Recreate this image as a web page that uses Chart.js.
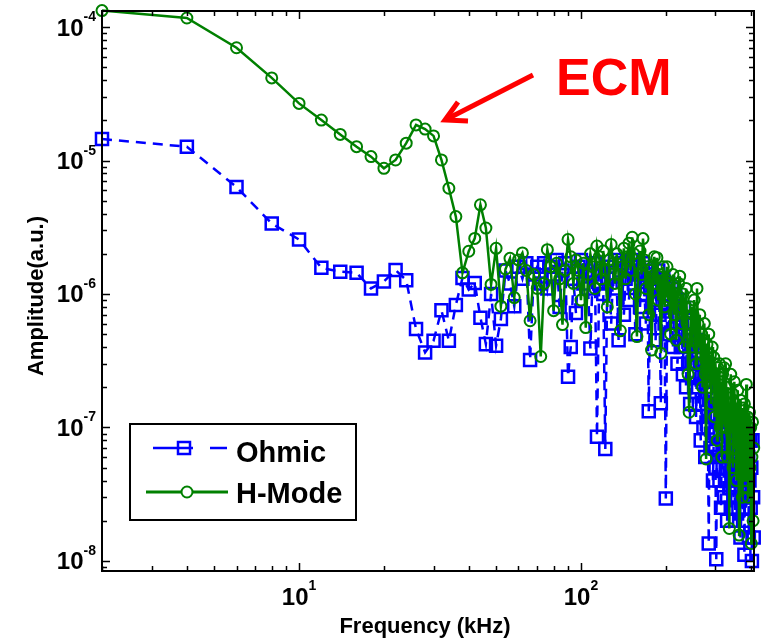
<!DOCTYPE html>
<html>
<head>
<meta charset="utf-8">
<title>Ohmic vs H-Mode spectrum</title>
<script src="https://cdn.jsdelivr.net/npm/chart.js@4.4.1/dist/chart.umd.min.js"></script>
<style>
  html, body { margin: 0; padding: 0; background: #fff; }
  #wrap { width: 765px; height: 639px; }
</style>
</head>
<body>
<div id="wrap"><canvas id="spec" width="765" height="639"></canvas></div>
<script>
/* ── Data (2 kHz bins) ─────────────────────────────────────── */
const freqKHz = [
    2,   4,   6,   8,  10,  12,  14,  16,  18,  20,
   22,  24,  26,  28,  30,  32,  34,  36,  38,  40,
   42,  44,  46,  48,  50,  52,  54,  56,  58,  60,
   62,  64,  66,  68,  70,  72,  74,  76,  78,  80,
   82,  84,  86,  88,  90,  92,  94,  96,  98, 100,
  102, 104, 106, 108, 110, 112, 114, 116, 118, 120,
  122, 124, 126, 128, 130, 132, 134, 136, 138, 140,
  142, 144, 146, 148, 150, 152, 154, 156, 158, 160,
  162, 164, 166, 168, 170, 172, 174, 176, 178, 180,
  182, 184, 186, 188, 190, 192, 194, 196, 198, 200,
  202, 204, 206, 208, 210, 212, 214, 216, 218, 220,
  222, 224, 226, 228, 230, 232, 234, 236, 238, 240,
  242, 244, 246, 248, 250, 252, 254, 256, 258, 260,
  262, 264, 266, 268, 270, 272, 274, 276, 278, 280,
  282, 284, 286, 288, 290, 292, 294, 296, 298, 300,
  302, 304, 306, 308, 310, 312, 314, 316, 318, 320,
  322, 324, 326, 328, 330, 332, 334, 336, 338, 340,
  342, 344, 346, 348, 350, 352, 354, 356, 358, 360,
  362, 364, 366, 368, 370, 372, 374, 376, 378, 380,
  382, 384, 386, 388, 390, 392, 394, 396, 398, 400,
  402, 404, 406, 408, 410
];

// Ohmic (blue, dashed, squares) — 5 values per row = 10 kHz
const ohmic = [
  1.45e-5, 1.27e-5, 6.33e-6, 3.37e-6, 2.56e-6,   // 2-10
  1.57e-6, 1.47e-6, 1.44e-6, 1.10e-6, 1.24e-6,   // 12-20
  1.51e-6, 1.27e-6, 5.46e-7, 3.65e-7, 4.46e-7,   // 22-30
  7.55e-7, 4.46e-7, 8.28e-7, 1.32e-6, 1.08e-6,   // 32-40
  1.21e-6, 6.65e-7, 4.21e-7, 1.0e-6,  4.1e-7,    // 42-50
  6.5e-7,  1.5e-6,  1.2e-6,  8.1e-7,  1.6e-6,    // 52-60
  1.3e-6,  1.7e-6,  3.2e-7,  1.4e-6,  1.6e-6,    // 62-70
  1.2e-6,  1.7e-6,  1.1e-6,  1.6e-6,  1.4e-6,    // 72-80
  1.8e-6,  8e-7,    1.5e-6,  1.7e-6,  2.4e-7,    // 82-90
  4.0e-7,  1.3e-6,  7.2e-7,  1.6e-6,  1.8e-6,    // 92-100
  1.2e-6,  1.5e-6,  1.1e-6,  3.9e-7,  1.4e-6,    // 102-110
  1.7e-6,  8.5e-8,  1.2e-6,  1.5e-6,  1.0e-6,    // 112-120
  6.9e-8,  1.3e-6,  1.6e-6,  6e-7,    1.4e-6,    // 122-130
  1.8e-6,  1.1e-6,  4.5e-7,  1.5e-6,  1.7e-6,    // 132-140
  7e-7,    1.3e-6,  1.6e-6,  9e-7,    1.5e-6,    // 142-150
  1.8e-6,  1.2e-6,  5e-7,    1.4e-6,  1.6e-6,    // 152-160
  8e-7,    1.3e-6,  1.7e-6,  1.0e-6,  6e-7,      // 162-170
  1.4e-6,  1.32e-7, 1.1e-6,  1.5e-6,  9e-7,      // 172-180
  1.3e-6,  4.5e-7,  1.2e-6,  1.5e-6,  7e-7,      // 182-190
  1.52e-7, 1.0e-6,  1.3e-6,  6e-7,    2.94e-8,   // 192-200
  8e-7,    1.2e-6,  5e-7,    9e-7,    1.1e-6,    // 202-210
  4e-7,    8e-7,    1.0e-6,  5e-7,    3e-7,      // 212-220
  7e-7,    9e-7,    4e-7,    6e-7,    2.5e-7,    // 222-230
  7.9e-7,  5e-7,    2e-7,    6e-7,    3e-7,      // 232-240
  4.5e-7,  1.5e-7,  5e-7,    3e-7,    6e-7,      // 242-250
  2e-7,    4e-7,    1.2e-7,  3.5e-7,  4.5e-7,    // 252-260
  1.5e-7,  3e-7,    8e-8,    2.5e-7,  3.5e-7,    // 262-270
  1e-7,    2.5e-7,  6e-8,    2e-7,    3e-7,      // 272-280
  1e-7,    1.35e-8, 1.8e-7,  7e-8,    2.2e-7,    // 282-290
  1.2e-7,  4e-8,    9e-8,    1.5e-7,  5e-8,      // 292-300
  1.03e-8, 1.2e-7,  6e-8,    1.5e-7,  4e-8,      // 302-310
  9e-8,    2.5e-8,  1.1e-7,  5e-8,    1.3e-7,    // 312-320
  3e-8,    8e-8,    4e-8,    1e-7,    2e-8,      // 322-330
  7e-8,    1.1e-7,  3.5e-8,  6e-8,    2.5e-8,    // 332-340
  9e-8,    4e-8,    1.2e-7,  3e-8,    7e-8,      // 342-350
  2e-8,    5e-8,    9e-8,    3e-8,    6e-8,      // 352-360
  2.5e-8,  8e-8,    4e-8,    1.5e-8,  7e-8,      // 362-370
  3e-8,    5e-8,    2e-8,    6e-8,    1.11e-8,   // 372-380
  4e-8,    7e-8,    2.5e-8,  5e-8,    3e-8,      // 382-390
  6e-8,    1.5e-8,  4e-8,    8e-8,    2.5e-8,    // 392-400
  5e-8,    1e-8,    8e-8,    3e-8,    1.5e-8     // 402-410
];

// H-Mode (green, solid, circles)
const hMode = [
  1.33e-4, 1.17e-4, 7.0e-5,  4.16e-5, 2.68e-5,   // 2-10
  2.01e-5, 1.57e-5, 1.27e-5, 1.07e-5, 8.75e-6,   // 12-20
  1.01e-5, 1.35e-5, 1.85e-5, 1.72e-5, 1.53e-5,   // 22-30
  1.01e-5, 6.2e-6,  3.8e-6,  1.44e-6, 2.09e-6,   // 32-40
  2.61e-6, 4.66e-6, 3.12e-6, 1.18e-6, 2.2e-6,    // 42-50
  8.1e-7,  1.54e-6, 1.85e-6, 9.4e-7,  1.8e-6,    // 52-60
  2.03e-6, 1.5e-6,  6.3e-7,  1.4e-6,  1.1e-6,    // 62-70
  3.4e-7,  1.2e-6,  2.15e-6, 1.6e-6,  7.5e-7,    // 72-80
  1.7e-6,  1.3e-6,  5.9e-7,  1.5e-6,  2.56e-6,   // 82-90
  1.9e-6,  1.2e-6,  1.8e-6,  1.5e-6,  9e-7,      // 92-100
  1.7e-6,  5.6e-7,  1.4e-6,  2.0e-6,  1.6e-6,    // 102-110
  1.1e-6,  2.29e-6, 1.9e-6,  1.3e-6,  2.1e-6,    // 112-120
  1.5e-6,  8e-7,    1.8e-6,  2.35e-6, 1.7e-6,    // 122-130
  1.2e-6,  2.0e-6,  1.4e-6,  5.3e-7,  1.6e-6,    // 132-140
  2.2e-6,  1.3e-6,  1.9e-6,  2.4e-6,  1.5e-6,    // 142-150
  2.66e-6, 2.0e-6,  1.0e-6,  4.8e-7,  1.7e-6,    // 152-160
  2.1e-6,  1.4e-6,  2.6e-6,  1.8e-6,  1.1e-6,    // 162-170
  1.6e-6,  7e-7,    1.5e-6,  3.8e-7,  1.3e-6,    // 172-180
  1.9e-6,  1.2e-6,  1.87e-6, 9e-7,    1.4e-6,    // 182-190
  3.6e-7,  1.1e-6,  1.6e-6,  8e-7,    1.3e-6,    // 192-200
  1.6e-6,  9e-7,    1.2e-6,  5e-7,    1.0e-6,    // 202-210
  1.4e-6,  7e-7,    1.1e-6,  4.5e-7,  9e-7,      // 212-220
  1.2e-6,  1.36e-6, 8e-7,    6e-7,    1.0e-6,    // 222-230
  4e-7,    8e-7,    1.1e-6,  6e-7,    2.5e-7,    // 232-240
  1.3e-7,  5e-7,    8e-7,    4e-7,    7e-7,      // 242-250
  9e-7,    5e-7,    3e-7,    1.1e-6,  6e-7,      // 252-260
  4e-7,    7e-7,    3e-7,    5e-7,    2e-7,      // 262-270
  4.5e-7,  6e-7,    2.5e-7,  5.8e-8,  4.2e-7,    // 272-280
  3e-7,    5e-7,    2e-7,    3.5e-7,  1.5e-7,    // 282-290
  4e-7,    2.5e-7,  3.35e-7, 1.2e-7,  3e-7,      // 292-300
  2e-7,    8e-8,    2.8e-7,  1.5e-7,  3e-7,      // 302-310
  1e-7,    2.2e-7,  6e-8,    2.5e-7,  1.4e-7,    // 312-320
  2.8e-7,  1e-7,    3e-7,    1.8e-7,  6e-8,      // 322-330
  2e-7,    1.2e-7,  1.75e-8, 1.5e-7,  2.5e-7,    // 332-340
  9e-8,    1.8e-7,  5e-8,    1.3e-7,  2.2e-7,    // 342-350
  7e-8,    1.5e-7,  4e-8,    1.2e-7,  1.9e-7,    // 352-360
  6e-8,    1.56e-8, 1.1e-7,  1.6e-7,  5e-8,      // 362-370
  1.2e-7,  3e-8,    1.4e-7,  8e-8,    1.5e-7,    // 372-380
  4e-8,    1.1e-7,  2.1e-7,  7e-8,    1.2e-7,    // 382-390
  3e-8,    9e-8,    1.3e-7,  5e-8,    1e-7,      // 392-400
  1.35e-8, 6e-8,    1.1e-7,  2e-8,    7e-8       // 402-410
];

// Axis limits and tick labels (powers of ten)
const X_MIN = 2, X_MAX = 411;
const Y_MIN = 8.4e-9, Y_MAX = 1.32e-4;
const xMajorExps = [1, 2];
const yMajorExps = [-8, -7, -6, -5, -4];
const minorMult  = [2, 3, 4, 5, 6, 7, 8, 9];

const seriesNames = ['Ohmic', 'H-Mode'];
const BLUE  = '#0000ff';
const GREEN = '#008000';
const FONT  = '"Liberation Sans", Arial, sans-serif';

const pts = arr => arr.map((v, i) => ({ x: freqKHz[i], y: v }));

/* ── MATLAB-style frame: box, inward ticks, labels, legend, note ── */
const matlabFrame = {
  id: 'matlabFrame',
  afterDraw(chart) {
    const { ctx, chartArea: a, scales: { x, y } } = chart;
    ctx.save();

    // ticks on all four sides, pointing inwards
    ctx.strokeStyle = '#000';
    ctx.lineWidth = 1.5;
    ctx.beginPath();
    for (let e = Math.floor(Math.log10(X_MIN)); e <= Math.ceil(Math.log10(X_MAX)); e++) {
      [1, ...minorMult].forEach(m => {
        const v = m * Math.pow(10, e);
        if (v < X_MIN || v > X_MAX) return;
        const px = Math.round(x.getPixelForValue(v)) + 0.5;
        const len = m === 1 ? 8 : 5;
        ctx.moveTo(px, a.bottom); ctx.lineTo(px, a.bottom - len);
        ctx.moveTo(px, a.top);    ctx.lineTo(px, a.top + len);
      });
    }
    for (let e = Math.floor(Math.log10(Y_MIN)); e <= Math.ceil(Math.log10(Y_MAX)); e++) {
      [1, ...minorMult].forEach(m => {
        const v = m * Math.pow(10, e);
        if (v < Y_MIN || v > Y_MAX) return;
        const py = Math.round(y.getPixelForValue(v)) + 0.5;
        const len = m === 1 ? 8 : 5;
        ctx.moveTo(a.left, py);  ctx.lineTo(a.left + len, py);
        ctx.moveTo(a.right, py); ctx.lineTo(a.right - len, py);
      });
    }
    ctx.stroke();

    // box
    ctx.lineWidth = 2;
    ctx.strokeRect(a.left, a.top, a.right - a.left, a.bottom - a.top);

    // tick labels 10^n
    ctx.fillStyle = '#000';
    ctx.textBaseline = 'alphabetic';
    ctx.textAlign = 'left';
    yMajorExps.forEach(e => {
      const py = y.getPixelForValue(Math.pow(10, e));
      ctx.font = 'bold 14px ' + FONT;
      const sup = String(e);
      const ws = ctx.measureText(sup).width;
      ctx.fillText(sup, 96 - ws, py - 6);
      ctx.font = 'bold 24px ' + FONT;
      const wb = ctx.measureText('10').width;
      ctx.fillText('10', 96 - ws - wb, py + 8.5);
    });
    xMajorExps.forEach(e => {
      const px = x.getPixelForValue(Math.pow(10, e));
      ctx.font = 'bold 24px ' + FONT;
      const wb = ctx.measureText('10').width;
      ctx.font = 'bold 14px ' + FONT;
      const sup = String(e);
      const ws = ctx.measureText(sup).width;
      const x0 = px - (wb + ws) / 2;
      ctx.fillText(sup, x0 + wb, 590);
      ctx.font = 'bold 24px ' + FONT;
      ctx.fillText('10', x0, 605);
    });

    // axis titles
    ctx.font = 'bold 22px ' + FONT;
    ctx.textAlign = 'center';
    ctx.fillText('Frequency (kHz)', 425, 633);
    ctx.save();
    ctx.translate(43, 296);
    ctx.rotate(-Math.PI / 2);
    ctx.fillText('Amplitude(a.u.)', 0, 0);
    ctx.restore();

    // legend
    const lg = { l: 130, t: 424, w: 226, h: 96 };
    ctx.fillStyle = '#fff';
    ctx.fillRect(lg.l, lg.t, lg.w, lg.h);
    ctx.lineWidth = 2;
    ctx.strokeStyle = '#000';
    ctx.strokeRect(lg.l, lg.t, lg.w, lg.h);

    ctx.strokeStyle = BLUE;
    ctx.lineWidth = 2.5;
    ctx.beginPath();
    ctx.moveTo(153, 448); ctx.lineTo(193, 448);
    ctx.moveTo(210, 448); ctx.lineTo(227, 448);
    ctx.stroke();
    ctx.strokeRect(178, 442, 12, 12);

    ctx.strokeStyle = GREEN;
    ctx.lineWidth = 3;
    ctx.beginPath();
    ctx.moveTo(146, 492); ctx.lineTo(228, 492);
    ctx.stroke();
    ctx.lineWidth = 2;
    ctx.beginPath();
    ctx.arc(187, 492, 5.5, 0, Math.PI * 2);
    ctx.fillStyle = '#fff';
    ctx.fill();
    ctx.stroke();

    ctx.fillStyle = '#000';
    ctx.textAlign = 'left';
    ctx.font = 'bold 29px ' + FONT;
    ctx.fillText(seriesNames[0], 236, 462);
    ctx.fillText(seriesNames[1], 236, 503);

    // ECM annotation
    ctx.fillStyle = '#ff0000';
    ctx.font = 'bold 52px ' + FONT;
    ctx.fillText('ECM', 556, 95);
    ctx.strokeStyle = '#ff0000';
    ctx.lineWidth = 5;
    ctx.lineJoin = 'miter';
    ctx.beginPath();
    ctx.moveTo(533, 75); ctx.lineTo(447, 119);
    ctx.stroke();
    ctx.beginPath();
    ctx.moveTo(458, 102); ctx.lineTo(445, 120); ctx.lineTo(468, 121);
    ctx.stroke();

    ctx.restore();
  }
};

new Chart(document.getElementById('spec'), {
  type: 'line',
  data: {
    datasets: [
      {
        label: seriesNames[1], data: pts(hMode), order: 0,
        borderColor: GREEN, borderWidth: 2.5,
        pointStyle: 'circle', pointRadius: 5.5, pointBorderWidth: 2,
        pointBorderColor: GREEN, pointBackgroundColor: 'rgba(0,0,0,0)',
        tension: 0, clip: false,
      },
      {
        label: seriesNames[0], data: pts(ohmic), order: 1,
        borderColor: BLUE, borderWidth: 2.5, borderDash: [10, 7],
        pointStyle: 'rect', pointRadius: 8.5, pointBorderWidth: 2.5,
        pointBorderColor: BLUE, pointBackgroundColor: 'rgba(0,0,0,0)',
        tension: 0, clip: false,
      },
    ]
  },
  options: {
    responsive: false,
    animation: false,
    events: [],
    layout: { padding: { left: 102, top: 9, right: 9, bottom: 68 } },
    plugins: { legend: { display: false }, tooltip: { enabled: false } },
    scales: {
      x: { type: 'logarithmic', min: X_MIN, max: X_MAX, display: false },
      y: { type: 'logarithmic', min: Y_MIN, max: Y_MAX, display: false },
    }
  },
  plugins: [matlabFrame]
});
</script>
</body>
</html>
